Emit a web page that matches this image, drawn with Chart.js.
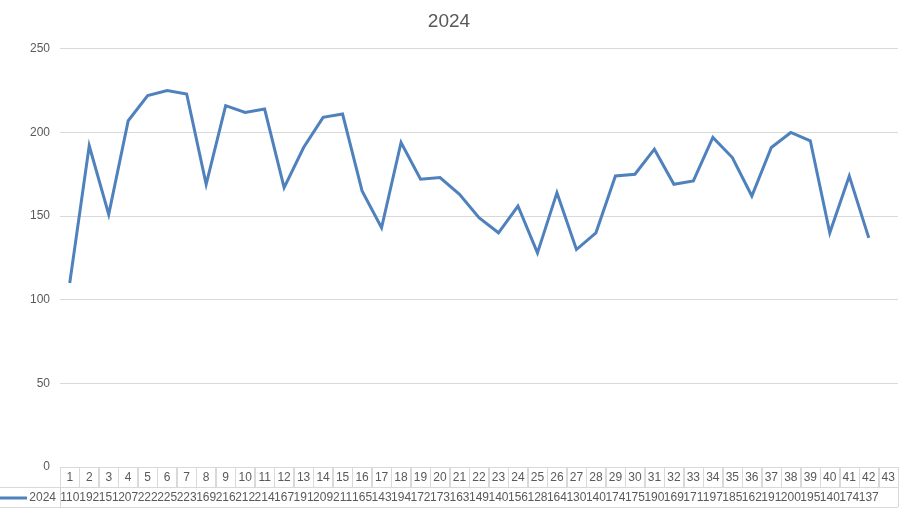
<!DOCTYPE html>
<html>
<head>
<meta charset="utf-8">
<script src="https://cdn.jsdelivr.net/npm/chart.js@4"></script>
<style>
    html, body { margin: 0; padding: 0; background: #ffffff; }
    #chart { display: block; }
</style>
</head>
<body>
<canvas id="chart" width="900" height="511"></canvas>
<script>
// Categories 1..43 (43 has no value)
const categories = ['1','2','3','4','5','6','7','8','9','10','11','12','13','14','15','16','17','18','19','20',
    '21','22','23','24','25','26','27','28','29','30','31','32','33','34','35','36','37','38','39','40','41','42','43'];

const series2024 = [110, 192, 151, 207, 222, 225, 223, 169, 216, 212, 214, 167, 191, 209, 211, 165, 143, 194, 172, 173,
    163, 149, 140, 156, 128, 164, 130, 140, 174, 175, 190, 169, 171, 197, 185, 162, 191, 200, 195, 140, 174, 137, null];

const yTicks = [0, 50, 100, 150, 200, 250];

const lineColor = '#4f81bd';
const textColor = '#595959';
const gridColor = '#d9d9d9';

// Excel-style data table under the plot
const dataTablePlugin = {
    id: 'dataTable',
    afterDraw(chart) {
        const ctx = chart.ctx;
        const xScale = chart.scales.x;
        const area = chart.chartArea;
        const top = area.bottom;
        const rowH = 20;
        const cellW = (area.right - area.left) / categories.length;

        ctx.save();
        ctx.strokeStyle = gridColor;
        ctx.lineWidth = 1;

        // header row
        for (let i = 0; i < categories.length; i++) {
            const cx = xScale.getPixelForValue(i);
            const x0 = Math.round(cx - cellW / 2) + 0.5;
            ctx.strokeRect(x0, top + 0.5, Math.round(cellW), rowH);
        }
        // value row, extends to the legend key at left
        ctx.beginPath();
        ctx.moveTo(0, top + rowH + 0.5);
        ctx.lineTo(area.right, top + rowH + 0.5);
        ctx.moveTo(0, top + 2 * rowH + 0.5);
        ctx.lineTo(area.right, top + 2 * rowH + 0.5);
        ctx.moveTo(area.right + 0.5, top + rowH);
        ctx.lineTo(area.right + 0.5, top + 2 * rowH);
        ctx.moveTo(area.left + 0.5, top + rowH);
        ctx.lineTo(area.left + 0.5, top + 2 * rowH);
        ctx.stroke();

        ctx.font = '12px "Liberation Sans", Arial, sans-serif';
        ctx.fillStyle = textColor;
        ctx.textAlign = 'center';
        ctx.textBaseline = 'middle';
        for (let i = 0; i < categories.length; i++) {
            const cx = xScale.getPixelForValue(i);
            ctx.fillText(categories[i], cx, top + rowH / 2 + 1);
            if (series2024[i] !== null) {
                ctx.fillText(String(series2024[i]), cx, top + rowH * 1.5 + 1);
            }
        }

        // legend key
        ctx.strokeStyle = lineColor;
        ctx.lineWidth = 3;
        ctx.beginPath();
        ctx.moveTo(0, top + rowH * 1.5 + 1);
        ctx.lineTo(27, top + rowH * 1.5 + 1);
        ctx.stroke();
        ctx.textAlign = 'right';
        ctx.fillText('2024', area.left - 4, top + rowH * 1.5 + 1);
        ctx.restore();
    }
};

new Chart(document.getElementById('chart'), {
    type: 'line',
    data: {
        labels: categories,
        datasets: [{
            label: '2024',
            data: series2024,
            borderColor: lineColor,
            borderWidth: 3,
            pointRadius: 0,
            tension: 0,
            fill: false
        }]
    },
    options: {
        responsive: false,
        devicePixelRatio: 1,
        animation: false,
        layout: {
            padding: { left: 0, right: 2, top: 0, bottom: 36 }
        },
        plugins: {
            legend: { display: false },
            tooltip: { enabled: false },
            title: {
                display: true,
                text: '2024',
                color: textColor,
                font: { family: '"Liberation Sans", Arial, sans-serif', size: 19, weight: 'normal' },
                padding: { top: 10, bottom: 16 }
            }
        },
        scales: {
            x: {
                type: 'category',
                offset: true,
                grid: { display: false },
                border: { display: false },
                ticks: { display: false }
            },
            y: {
                min: 0,
                max: 250,
                afterBuildTicks: scale => {
                    scale.ticks = yTicks.map(v => ({ value: v }));
                },
                afterFit: scale => { scale.width = 60; },
                grid: { color: gridColor, drawTicks: false },
                border: { display: false },
                ticks: {
                    color: textColor,
                    padding: 10,
                    font: { family: '"Liberation Sans", Arial, sans-serif', size: 12 }
                }
            }
        }
    },
    plugins: [dataTablePlugin]
});
</script>
</body>
</html>
